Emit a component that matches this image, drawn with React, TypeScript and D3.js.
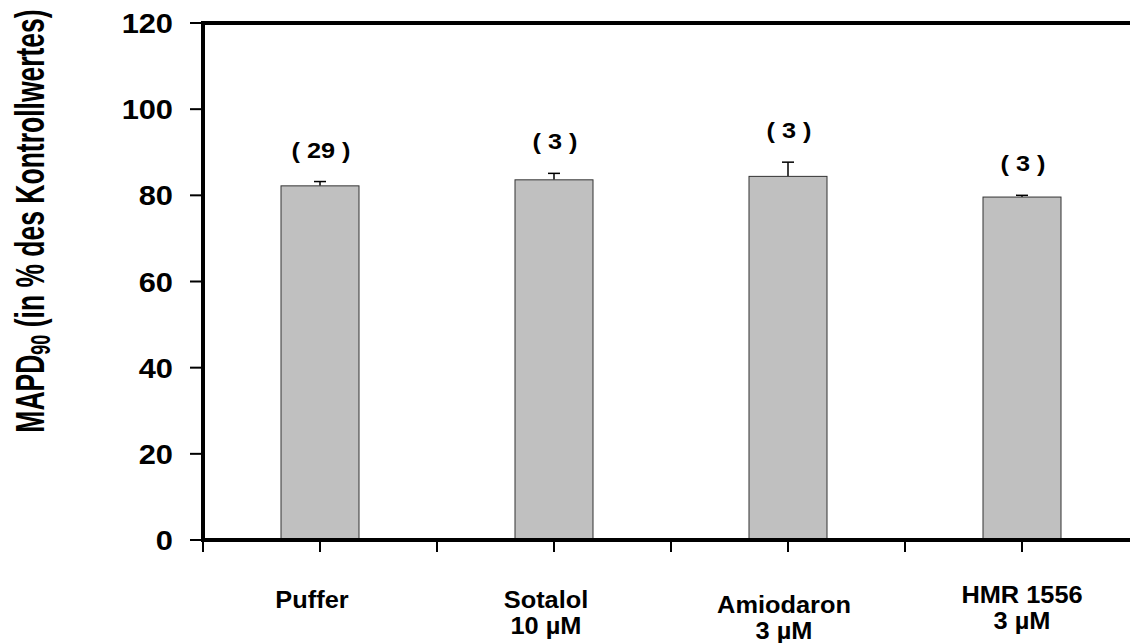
import * as d3 from 'd3';

const categories = ['Puffer', 'Sotalol', 'Amiodaron', 'HMR 1556'];
const doses = ['', '10 µM', '3 µM', '3 µM'];
const means = [82.2, 83.6, 84.4, 79.6];
const errors = [1.0, 1.5, 3.3, 0.4];
const counts = [29, 3, 3, 3];
const yTicks = [0, 20, 40, 60, 80, 100, 120];

// small label nudges seen in the original (px)
const labelDx = [-8, -8, -4, 0];
const labelDy = [0, 0, 5, -5];

const W = 1130;
const H = 643;
const left = 203;
const top = 23;
const bottom = 540;
const band = 234;
const font = '"Liberation Sans", Arial, sans-serif';

// text that is a bit wider than Liberation Sans, like the original's Arial
function WideText({
  x,
  y,
  size,
  sx = 1.1,
  anchor = 'middle',
  children,
}: {
  x: number;
  y: number;
  size: number;
  sx?: number;
  anchor?: string;
  children: React.ReactNode;
}) {
  return (
    <text
      transform={`translate(${x},${y}) scale(${sx},1)`}
      textAnchor={anchor}
      fontSize={size}
      fontWeight="bold"
    >
      {children}
    </text>
  );
}

export default function App() {
  const x = d3
    .scaleBand<string>()
    .domain(categories)
    .range([left, left + band * categories.length])
    .paddingInner(0)
    .paddingOuter(0);
  const y = d3.scaleLinear().domain([0, 120]).range([bottom, top]);
  const barW = x.bandwidth() / 3;

  const xTickPos: number[] = [];
  categories.forEach((c) => {
    const x0 = x(c)!;
    xTickPos.push(x0, x0 + x.bandwidth() / 2);
  });

  return (
    <div style={{ position: 'fixed', left: 0, top: 0 }}>
      <svg width={W} height={H} style={{ display: 'block', background: '#fff' }} fontFamily={font}>
        {/* bars */}
        {categories.map((c, i) => {
          const cx = x(c)! + x.bandwidth() / 2;
          const yTop = y(means[i]);
          const yErr = y(means[i] + errors[i]);
          return (
            <g key={c}>
              <line x1={cx} x2={cx} y1={yTop} y2={yErr} stroke="#000" strokeWidth={1.5} />
              <line x1={cx - 6} x2={cx + 6} y1={yErr} y2={yErr} stroke="#000" strokeWidth={1.5} />
              <rect
                x={cx - barW / 2}
                y={yTop}
                width={barW}
                height={bottom - yTop}
                fill="#c0c0c0"
                stroke="#333"
                strokeWidth={1}
              />
              <WideText x={cx + 1} y={yErr - 24} size={22} sx={1.15}>
                {`( ${counts[i]} )`}
              </WideText>
              <WideText x={cx + labelDx[i]} y={608 + labelDy[i]} size={23.5} sx={1.08}>
                {c}
              </WideText>
              {doses[i] && (
                <WideText x={cx + labelDx[i]} y={634 + labelDy[i]} size={23.5} sx={1.08}>
                  {doses[i]}
                </WideText>
              )}
            </g>
          );
        })}

        {/* frame lines */}
        <line x1={left} x2={W} y1={top} y2={top} stroke="#000" strokeWidth={4} />
        <line x1={left} x2={left} y1={top - 2} y2={bottom + 2} stroke="#000" strokeWidth={4} />
        <line x1={left - 2} x2={W} y1={bottom} y2={bottom} stroke="#000" strokeWidth={4} />

        {/* y ticks */}
        {yTicks.map((t) => (
          <g key={t}>
            <line x1={left - 13} x2={left} y1={y(t)} y2={y(t)} stroke="#000" strokeWidth={2} />
            <WideText x={173} y={y(t) + 10} size={28} sx={1.1} anchor="end">
              {t}
            </WideText>
          </g>
        ))}

        {/* x ticks */}
        {xTickPos.map((p, i) => (
          <line key={i} x1={p} x2={p} y1={bottom} y2={bottom + 12} stroke="#000" strokeWidth={2} />
        ))}

        {/* y title */}
        <text
          transform={`translate(44, 221) rotate(-90) scale(1, 1.5)`}
          textAnchor="middle"
          fontSize={26.5}
          fontWeight="bold"
        >
          MAPD
          <tspan fontSize={18} dy={4}>
            90
          </tspan>
          <tspan dy={-4}> (in % des Kontrollwertes)</tspan>
        </text>
      </svg>
    </div>
  );
}
